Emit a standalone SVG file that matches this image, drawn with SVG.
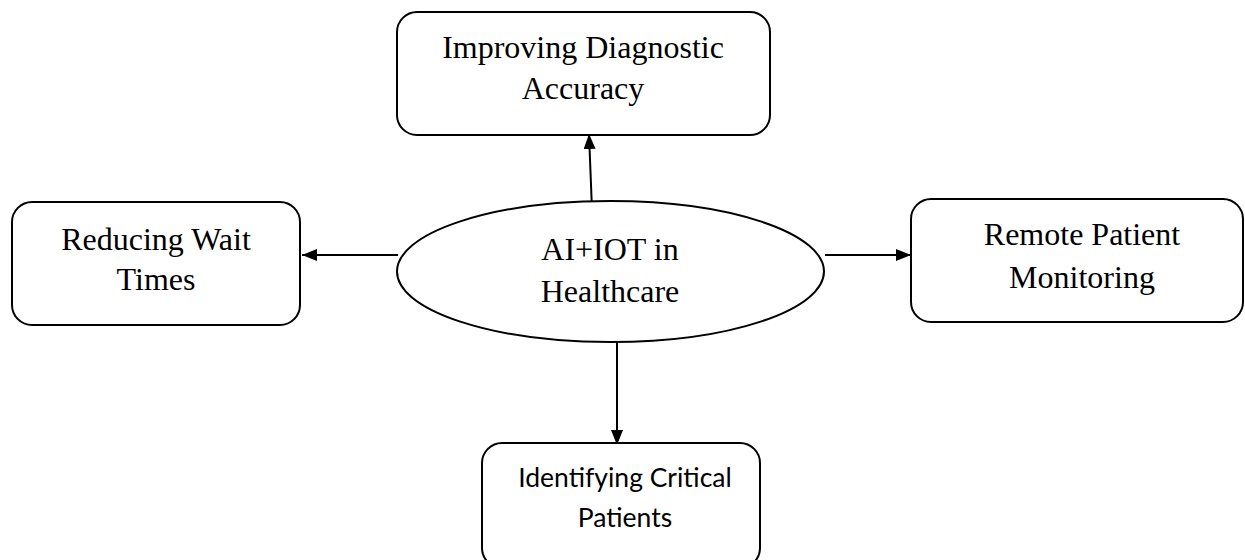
<svg xmlns="http://www.w3.org/2000/svg" width="1245" height="560" viewBox="0 0 1245 560">
<style>
.box{fill:#fff;stroke:#000;stroke-width:2}
.serif{font-family:"Liberation Serif","Times New Roman",serif;font-size:32px;fill:#000;text-anchor:middle}
.sans{font-family:Lato,"Open Sans",sans-serif;font-size:26.5px;fill:#000;text-anchor:middle}
.conn{stroke:#000;stroke-width:2;fill:none;marker-end:url(#ah)}
</style>
<defs>
<marker id="ah" viewBox="0 0 15 12" refX="15" refY="6" markerWidth="15" markerHeight="12" markerUnits="userSpaceOnUse" orient="auto">
<path d="M0,0 L15,6 L0,12 Z" fill="#000"/>
</marker>
</defs>
<rect width="1245" height="560" fill="#fff"/>
<g id="connectors">
<line class="conn" x1="592" y1="210" x2="589" y2="134"/>
<line class="conn" x1="398" y1="255" x2="302" y2="255"/>
<line class="conn" x1="825" y1="255" x2="911" y2="255"/>
<line class="conn" x1="617" y1="336" x2="617" y2="445"/>
</g>
<g id="node-center">
<ellipse class="box" cx="610.5" cy="271.5" rx="213.5" ry="70.5"/>
<text class="serif" x="610" y="260">AI+IOT in</text>
<text class="serif" x="610" y="302">Healthcare</text>
</g>
<g id="node-top">
<rect class="box" x="397" y="12" width="373" height="123" rx="20"/>
<text class="serif" x="583" y="58">Improving Diagnostic</text>
<text class="serif" x="583" y="99">Accuracy</text>
</g>
<g id="node-left">
<rect class="box" x="12" y="202" width="288" height="123" rx="20"/>
<text class="serif" x="156" y="250">Reducing Wait</text>
<text class="serif" x="156" y="290">Times</text>
</g>
<g id="node-right">
<rect class="box" x="911" y="199" width="332" height="123" rx="20"/>
<text class="serif" x="1082" y="245">Remote Patient</text>
<text class="serif" x="1082" y="288">Monitoring</text>
</g>
<g id="node-bottom">
<rect class="box" x="482" y="443" width="278" height="125" rx="20"/>
<text class="sans" x="625" y="487">Identifying Critical</text>
<text class="sans" x="625" y="527">Patients</text>
</g>
</svg>
